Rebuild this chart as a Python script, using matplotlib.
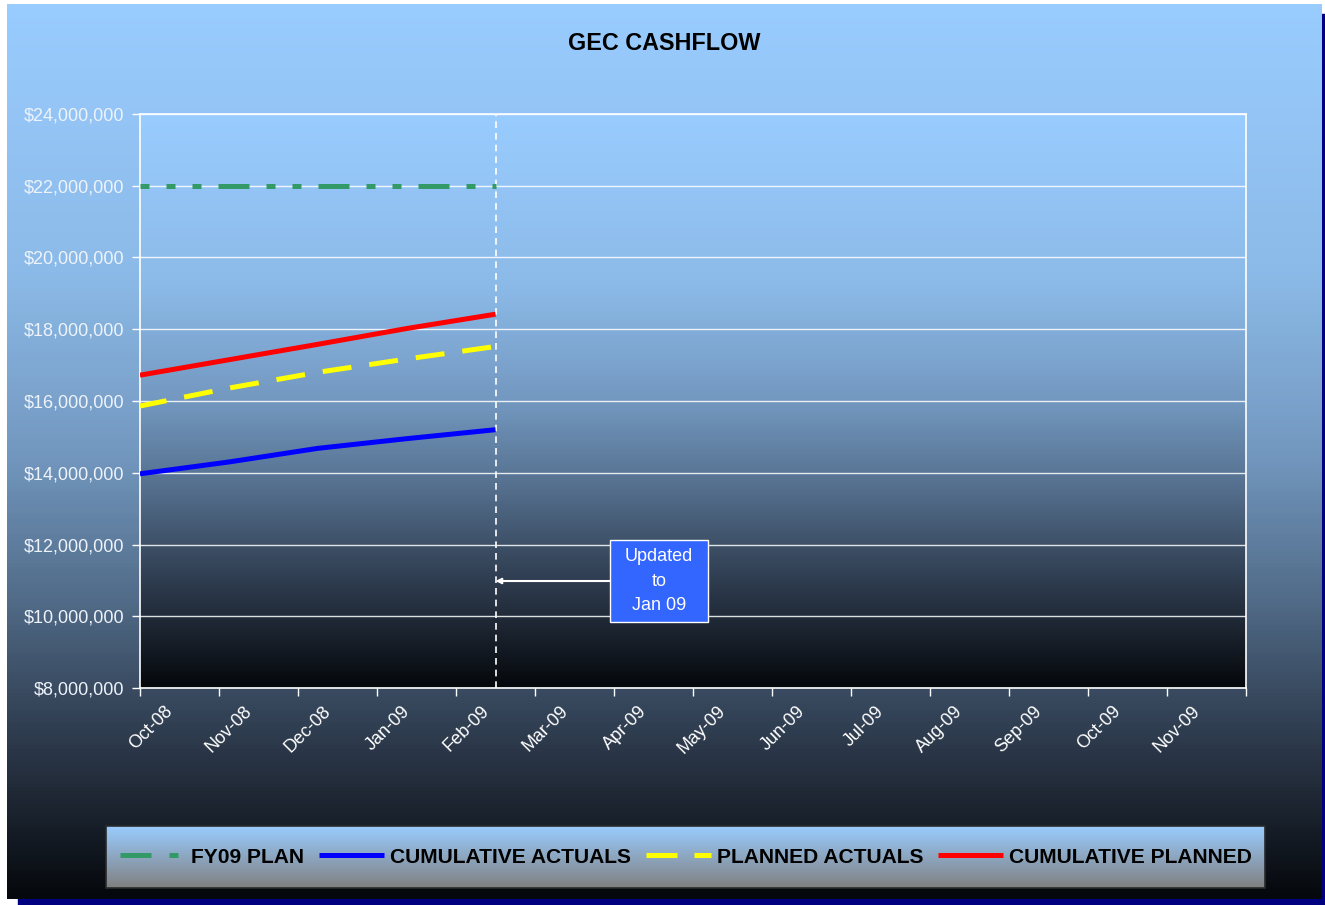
# Gráfico GEC CASHFLOW
import numpy as np
import matplotlib
matplotlib.use('Agg')
from matplotlib import pyplot as plt
from matplotlib.colors import LinearSegmentedColormap
from matplotlib.lines import Line2D
from matplotlib.patches import Rectangle
from matplotlib.ticker import FuncFormatter
from matplotlib.transforms import ScaledTranslation

plt.rcParams['font.family'] = ['Liberation Sans', 'DejaVu Sans']

# Dados
meses = ['Oct-08', 'Nov-08', 'Dec-08', 'Jan-09', 'Feb-09', 'Mar-09', 'Apr-09',
         'May-09', 'Jun-09', 'Jul-09', 'Aug-09', 'Sep-09', 'Oct-09', 'Nov-09']
meses_dados = ['Oct-08', 'Nov-08', 'Dec-08', 'Jan-09', 'Feb-09']
fy09_plan = [22.0e6, 22.0e6, 22.0e6, 22.0e6, 22.0e6]
cumulative_actuals = [13.97e6, 14.30e6, 14.68e6, 14.95e6, 15.20e6]
planned_actuals = [15.86e6, 16.36e6, 16.80e6, 17.17e6, 17.52e6]
cumulative_planned = [16.72e6, 17.15e6, 17.58e6, 18.02e6, 18.42e6]
y_ticks = [8e6, 10e6, 12e6, 14e6, 16e6, 18e6, 20e6, 22e6, 24e6]

W, H = 1325, 905

# Gradientes
grad_chart = LinearSegmentedColormap.from_list('chart', [
    (0.0, (153/255, 204/255, 255/255)),
    (0.3, (140/255, 186/255, 232/255)),
    (0.5, (115/255, 152/255, 192/255)),
    (0.65, (85/255, 112/255, 142/255)),
    (0.8, (50/255, 65/255, 85/255)),
    (0.9, (28/255, 36/255, 48/255)),
    (1.0, (5/255, 8/255, 12/255))])
grad_legenda = LinearSegmentedColormap.from_list('leg', ['#99CCFF', '#808080'])
g = np.linspace(0, 1, 256).reshape(-1, 1)

fig = plt.figure(figsize=(W/100, H/100), dpi=100)
fig.patch.set_facecolor('white')

# Fundo (área do gráfico) em pixels
bg = fig.add_axes([0, 0, 1, 1])
bg.axis('off')
bg.add_patch(Rectangle((18, 14), W, H, color='#000080', zorder=0))
bg.imshow(g, cmap=grad_chart, extent=[7, 1322, 899, 5], aspect='auto', zorder=1)
bg.imshow(g, cmap=grad_legenda, extent=[106, 1265, 888, 826], aspect='auto', zorder=2)
bg.add_patch(Rectangle((106, 826), 1159, 62, fill=False, edgecolor='#2a2a2a', lw=1.2, zorder=3))
bg.set_xlim(0, W)
bg.set_ylim(H, 0)

# Área de plotagem
ax = fig.add_axes([140/W, 1 - 688/H, (1246-140)/W, (688-114)/H])
ax.set_xlim(0, len(meses))
ax.set_ylim(8e6, 24e6)
ax.imshow(g, cmap=grad_chart, extent=[0, len(meses), 8e6, 24e6], aspect='auto', zorder=0)

x_dados = np.linspace(0, 4.5, len(meses_dados))

ax.plot(x_dados, fy09_plan, color='#339966', lw=3.6, dash_capstyle='butt',
        ls=(4.4, (6.2, 3.4, 1.8, 3.4, 1.8, 3.4)), zorder=3)
ax.plot(x_dados, cumulative_actuals, color='#0000FF', lw=3.6, solid_capstyle='butt', zorder=3)
ax.plot(x_dados, planned_actuals, color='#FFFF00', lw=3.6, dash_capstyle='butt',
        ls=(0.4, (5.8, 3.6)), zorder=3)
ax.plot(x_dados, cumulative_planned, color='#FF0000', lw=3.6, solid_capstyle='butt', zorder=3)

# Linha vertical tracejada
ax.axvline(4.5, color='white', lw=1.2, ls=(0, (4, 3)), zorder=2)

# Caixa "Updated to Jan 09"
ax.add_patch(Rectangle((0.425, 0.115), 0.0886, 0.143, transform=ax.transAxes,
                       facecolor='#3366FF', edgecolor='white', lw=1, zorder=4))
ax.text(0.4693, 0.1864, 'Updated\nto\nJan 09', transform=ax.transAxes, ha='center',
        va='center', color='white', fontsize=13, linespacing=1.6, zorder=5)
ax.annotate('', xy=(4.5 / len(meses), 0.1864), xytext=(0.425, 0.1864),
            xycoords='axes fraction', textcoords='axes fraction',
            arrowprops=dict(arrowstyle='-|>', color='white', lw=1.5,
                            mutation_scale=8, shrinkA=0, shrinkB=0), zorder=5)

# Eixos
ax.set_yticks(y_ticks)
ax.yaxis.set_major_formatter(FuncFormatter(lambda v, p: '${:,.0f}'.format(v)))
ax.tick_params(axis='y', length=6, width=1, color='white', pad=5,
               labelcolor='#eef3fa', labelsize=13)
ax.grid(axis='y', color='white', lw=1, alpha=0.85)

ax.set_xticks(np.arange(len(meses) + 1))
ax.set_xticklabels([])
ax.set_xticks(np.arange(len(meses)) + 0.5, minor=True)
ax.set_xticklabels(meses, minor=True, rotation=45, ha='right', va='center',
                   rotation_mode='anchor')
ax.tick_params(axis='x', which='major', length=6, width=1, color='white')
ax.tick_params(axis='x', which='minor', length=0, pad=15, labelcolor='white',
               labelsize=13)
for lab in ax.get_xticklabels(minor=True):
    lab.set_transform(lab.get_transform() + ScaledTranslation(-0.09, 0, fig.dpi_scale_trans))

for s in ax.spines.values():
    s.set_color('white')
    s.set_linewidth(1.2)

# Título
fig.text(664/W, 1 - 44/H, 'GEC CASHFLOW', ha='center', va='center',
         fontsize=16.8, fontweight='bold', color='black')

# Legenda
handles = [
    Line2D([], [], color='#339966', lw=3.6, dash_capstyle='butt', ls=(0, (6.2, 3.6, 1.8, 10))),
    Line2D([], [], color='#0000FF', lw=3.6, solid_capstyle='butt'),
    Line2D([], [], color='#FFFF00', lw=3.6, dash_capstyle='butt', ls=(0, (6.2, 3.4))),
    Line2D([], [], color='#FF0000', lw=3.6, solid_capstyle='butt'),
]
labels = ['FY09 PLAN', 'CUMULATIVE ACTUALS', 'PLANNED ACTUALS', 'CUMULATIVE PLANNED']
fig.legend(handles, labels, loc='center', bbox_to_anchor=(686/W, 1 - 857/H), ncol=4,
           frameon=False, prop={'weight': 'bold', 'size': 15.1}, handlelength=3.1,
           handletextpad=0.3, columnspacing=0.7, borderaxespad=0)

fig.savefig('out.png', dpi=100)
